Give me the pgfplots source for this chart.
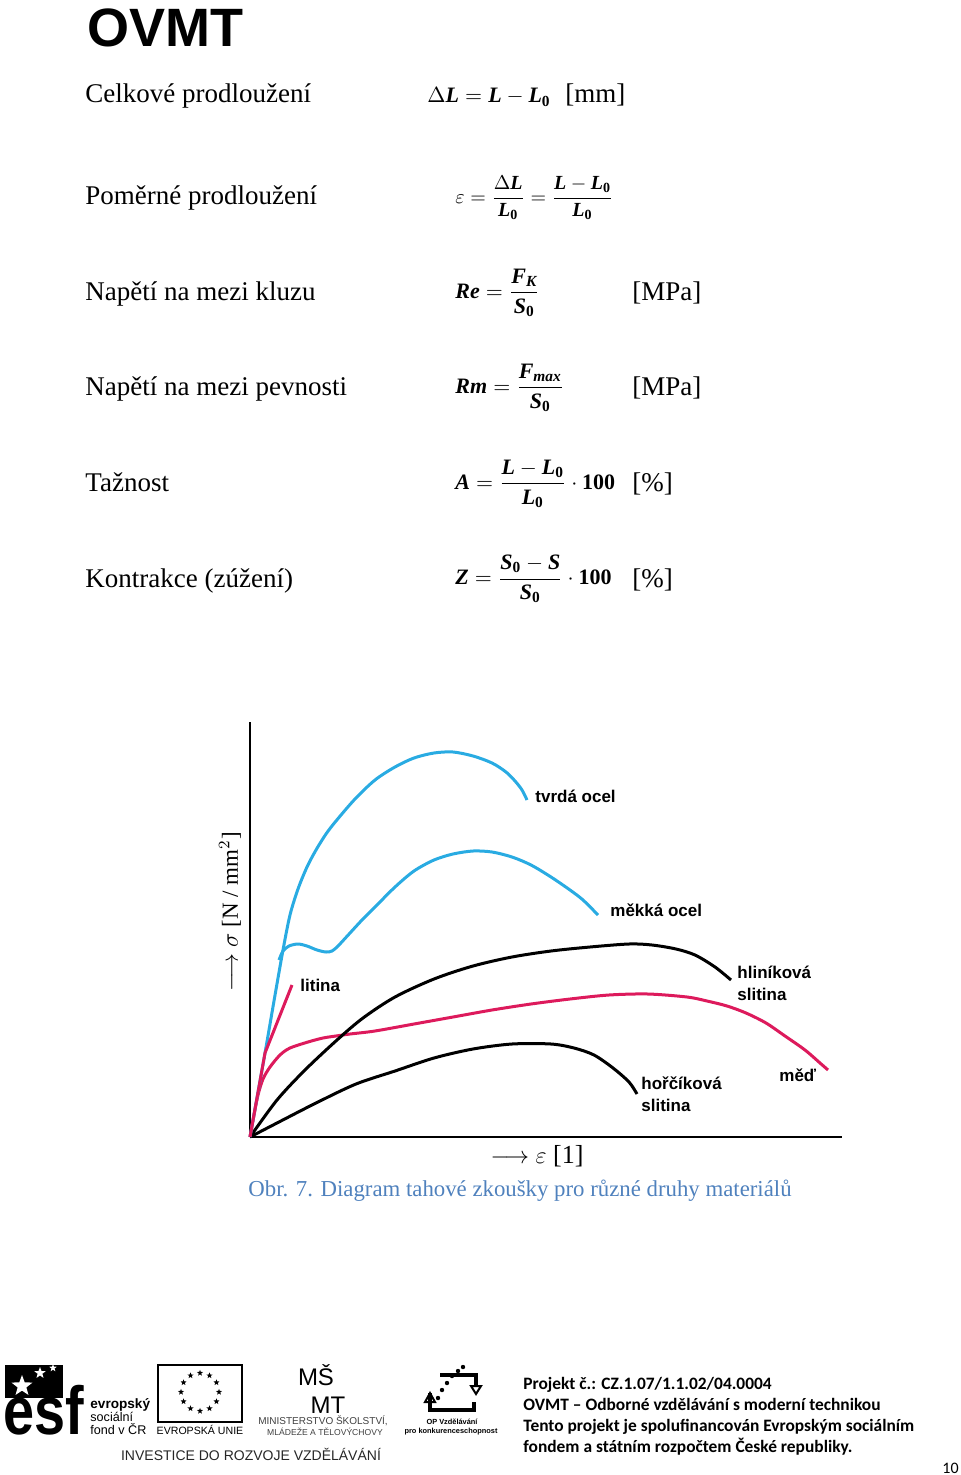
\documentclass[border=0pt]{standalone}
\usepackage{amsmath}
\usepackage{pgfplots}
\pgfplotsset{compat=1.18}
\usepackage{fontspec}
\setmainfont{Liberation Serif}
\newfontfamily\arialf{Liberation Sans}
\newfontfamily\calibrif{Carlito}
\usetikzlibrary{shapes.geometric,calc}
\DeclareMathAlphabet{\mathbi}{TU}{\rmdefault}{b}{it}
\definecolor{cblue}{RGB}{41,171,226}
\definecolor{cred}{RGB}{221,26,92}
\definecolor{capblue}{RGB}{79,129,189}
\newcommand{\fsz}[2]{\fontsize{#1}{#2}\selectfont}
\newcommand{\bodytext}{\fsz{13.5}{16}}
\newcommand{\Lz}{\mathbi{L}_{\mathbf{0}}}
\newcommand{\Sz}{\mathbi{S}_{\mathbf{0}}}
\newsavebox\fA
\newsavebox\fB
\newsavebox\fC
\newsavebox\fD
\newsavebox\fE
\newsavebox\fF
\newsavebox\lY
\newsavebox\lX
\begin{document}
\sbox\fA{\fsz{11}{13}$\Delta\mathbi{L} = \mathbi{L} - \Lz$}%
\sbox\fB{\fsz{10}{12}$\varepsilon = \dfrac{\Delta\mathbi{L}}{\Lz} = \dfrac{\mathbi{L} - \Lz}{\Lz}$}%
\sbox\fC{\fsz{11}{13}$\mathbi{Re} = \dfrac{\mathbi{F}_{\mathbi{K}}}{\Sz}$}%
\sbox\fD{\fsz{11}{13}$\mathbi{Rm} = \dfrac{\mathbi{F}_{\mathbi{max}}}{\Sz}$}%
\sbox\fE{\fsz{11}{13}$\mathbi{A} = \dfrac{\mathbi{L} - \Lz}{\Lz}\cdot \mathbf{100}$}%
\sbox\fF{\fsz{11}{13}$\mathbi{Z} = \dfrac{\Sz - \mathbi{S}}{\Sz}\cdot \mathbf{100}$}%
\sbox\lY{\fsz{11.5}{13}$\longrightarrow$ $\sigma$ [N / mm$^{2}$]}%
\sbox\lX{\fsz{13}{15}$\longrightarrow$ $\varepsilon$ [1]}%
\begin{tikzpicture}
\begin{scope}[x=0.5pt,y=-0.5pt]
\path[use as bounding box] (0,0) rectangle (960,1475);
\node[anchor=base west,inner sep=0pt] at (87,47) {\arialf\bfseries\fsz{27}{30}OVMT};
\node[anchor=base west,inner sep=0pt] at (85,103) {\bodytext Celkové prodloužení};
\node[anchor=base west,inner sep=0pt] at (85,205) {\bodytext Poměrné prodloužení};
\node[anchor=base west,inner sep=0pt] at (85,301) {\bodytext Napětí na mezi kluzu};
\node[anchor=base west,inner sep=0pt] at (85,396) {\bodytext Napětí na mezi pevnosti};
\node[anchor=base west,inner sep=0pt] at (85,492) {\bodytext Tažnost};
\node[anchor=base west,inner sep=0pt] at (85,587) {\bodytext Kontrakce (zúžení)};
\node[anchor=base west,inner sep=0pt] at (427,103) {\usebox\fA};
\node[anchor=base west,inner sep=0pt] at (565,103) {\bodytext [mm]};
\node[anchor=west,inner sep=0pt] at (455,198) {\usebox\fB};
\node[anchor=west,inner sep=0pt] at (455,293) {\usebox\fC};
\node[anchor=base west,inner sep=0pt] at (632,301) {\bodytext [MPa]};
\node[anchor=west,inner sep=0pt] at (455,388) {\usebox\fD};
\node[anchor=base west,inner sep=0pt] at (632,396) {\bodytext [MPa]};
\node[anchor=west,inner sep=0pt] at (455,484) {\usebox\fE};
\node[anchor=base west,inner sep=0pt] at (632,492) {\bodytext [\%]};
\node[anchor=west,inner sep=0pt] at (455,579) {\usebox\fF};
\node[anchor=base west,inner sep=0pt] at (632,587) {\bodytext [\%]};
\node[rotate=90,inner sep=0pt] at (230,912) {\usebox\lY};
\node[inner sep=0pt] at (537,1156) {\usebox\lX};
\node[anchor=base west,inner sep=0pt,text=capblue] at (248,1196) {\fsz{11.4}{14}Obr. 7. Diagram tahové zkoušky pro různé druhy materiálů};
\fill[black] (5,1365) rectangle (63,1398);
\node[star,star points=5,star point ratio=2.4,fill=white,inner sep=0pt,minimum size=11pt] at (22,1386) {};
\node[star,star points=5,star point ratio=2.4,fill=white,inner sep=0pt,minimum size=6pt] at (40,1373) {};
\node[star,star points=5,star point ratio=2.4,fill=white,inner sep=0pt,minimum size=4pt] at (53,1368) {};
\node[anchor=base west,inner sep=0pt,xscale=0.82] at (3,1434) {\arialf\bfseries\fsz{34}{34}esf};
\node[anchor=base west,inner sep=0pt] at (90,1408) {\arialf\bfseries\fsz{6.8}{8}evropský};
\node[anchor=base west,inner sep=0pt] at (90,1421) {\arialf\fsz{6.3}{8}sociální};
\node[anchor=base west,inner sep=0pt] at (90,1434) {\arialf\fsz{6.3}{8}fond v ČR};
\draw[line width=0.6pt] (158,1365) rectangle (242,1422);
\foreach \ang in {0,30,...,330}
  \node[star,star points=5,star point ratio=2.4,fill=black,inner sep=0pt,minimum size=3.2pt] at ($(200,1392)+(\ang:19)$) {};
\node[inner sep=0pt] at (200,1430) {\arialf\fsz{5.3}{6}EVROPSKÁ UNIE};
\node[inner sep=0pt,anchor=base] at (316,1385) {\arialf\fsz{12}{13}MŠ};
\node[inner sep=0pt,anchor=base] at (328,1413) {\arialf\fsz{12}{13}MT};
\node[inner sep=0pt,text=black!75] at (323,1421) {\arialf\fsz{5}{6}MINISTERSTVO ŠKOLSTVÍ,};
\node[inner sep=0pt,text=black!75] at (325,1432) {\arialf\fsz{4.3}{5}MLÁDEŽE A TĚLOVÝCHOVY};
\draw[line width=1.6pt] (440,1375) -- (476,1375) -- (476,1386);
\draw[line width=1.6pt] (430,1393) -- (430,1410) -- (474,1410) -- (474,1402);
\draw[line width=1pt] (471,1386) -- (481,1386) -- (476,1394) -- cycle;
\draw[line width=1pt] (425,1402) -- (435,1402) -- (430,1393) -- cycle;
\fill (438,1398) circle (2.2);
\fill (442,1390) circle (2.2);
\fill (447,1383) circle (2.2);
\fill (452,1376) circle (2.2);
\fill (458,1371) circle (2.2);
\fill (463,1367) circle (2.2);
\node[inner sep=0pt] at (452,1422) {\arialf\bfseries\fsz{3.7}{4}OP Vzdělávání};
\node[inner sep=0pt] at (451,1432) {\arialf\bfseries\fsz{3.7}{4}pro konkurenceschopnost};
\node[inner sep=0pt,text=black!85] at (251,1454) {\arialf\fsz{7}{8}INVESTICE DO ROZVOJE VZDĚLÁVÁNÍ};
\node[anchor=base west,inner sep=0pt] at (523,1389) {\calibrif\bfseries\fsz{8.7}{9}Projekt č.: CZ.1.07/1.1.02/04.0004};
\node[anchor=base west,inner sep=0pt] at (523,1410) {\calibrif\bfseries\fsz{8.7}{9}OVMT – Odborné vzdělávání s moderní technikou};
\node[anchor=base west,inner sep=0pt] at (523,1431) {\calibrif\bfseries\fsz{8.7}{9}Tento projekt je spolufinancován Evropským sociálním};
\node[anchor=base west,inner sep=0pt] at (523,1452) {\calibrif\bfseries\fsz{8.7}{9}fondem a státním rozpočtem České republiky.};
\node[anchor=base west,inner sep=0pt] at (942,1473) {\calibrif\fsz{8}{9}10};
\end{scope}
\begin{axis}[at={(125pt,-568.5pt)}, anchor=south west, scale only axis,
  width=296pt, height=207.5pt, xmin=0, xmax=592, ymin=0, ymax=415,
  axis lines=left, axis line style={-, line width=1pt}, ticks=none, clip=false,
  every axis plot/.append style={line width=1.5pt, smooth, tension=0.5}]
\addplot[cred] coordinates {(0,0)(4,22)(8,42)(13,58)(20,70)(30,82)(40,89)(58,95)(73,99)(86,101)(100,103)(125,106)(164,113)(203,120)(242,127)(281,133)(320,138)(359,142)(398,143)(437,140)(457,136)(477,131)(496,124)(516,114)(535,101)(555,87)(570,74)(578,67)};
\addplot[black] coordinates {(0,0)(27,37)(55,67)(87,97)(113,119)(145,140)(184,158)(223,171)(262,180)(301,186)(340,190)(379,193)(402,192)(426,188)(445,182)(465,170)(481,157)};
\addplot[black] coordinates {(0,0)(27,14)(66,34)(106,53)(145,66)(184,79)(223,88)(262,93)(301,93)(324,89)(344,82)(363,69)(379,55)(387,43)};
\addplot[cblue] coordinates {(0,0)(15,84)(24,136)(33,187)(40,222)(48,248)(57,270)(66,287)(76,303)(86,316)(105,338)(125,357)(145,370)(164,379)(184,384)(203,385)(223,381)(242,374)(256,365)(265,356)(272,347)(277,337)};
\addplot[cblue] coordinates {(29,177)(33,186)(39,191)(48,193)(57,191)(67,187)(76,185)(82,186)(88,191)(100,204)(112,217)(125,230)(145,250)(164,266)(184,277)(203,283)(223,286)(242,285)(262,280)(281,272)(301,260)(320,247)(333,237)(348,222)};
\addplot[cred, sharp plot] coordinates {(0,0)(15,84)(42,152)};
\node[anchor=west, inner sep=0pt, font=\arialf\bfseries\fsz{8.5}{11}] at (axis cs:285,341) {tvrdá ocel};
\node[anchor=west, inner sep=0pt, font=\arialf\bfseries\fsz{8.5}{11}] at (axis cs:360,227) {měkká ocel};
\node[anchor=west, inner sep=0pt, align=left, font=\arialf\bfseries\fsz{8.5}{11}] at (axis cs:487,154) {hliníková\\slitina};
\node[anchor=west, inner sep=0pt, font=\arialf\bfseries\fsz{8.5}{11}] at (axis cs:50,152) {litina};
\node[anchor=west, inner sep=0pt, align=left, font=\arialf\bfseries\fsz{8.5}{11}] at (axis cs:391,43) {hořčíková\\slitina};
\node[anchor=west, inner sep=0pt, font=\arialf\bfseries\fsz{8.5}{11}] at (axis cs:529,62) {měď};
\end{axis}
\end{tikzpicture}
\end{document}
